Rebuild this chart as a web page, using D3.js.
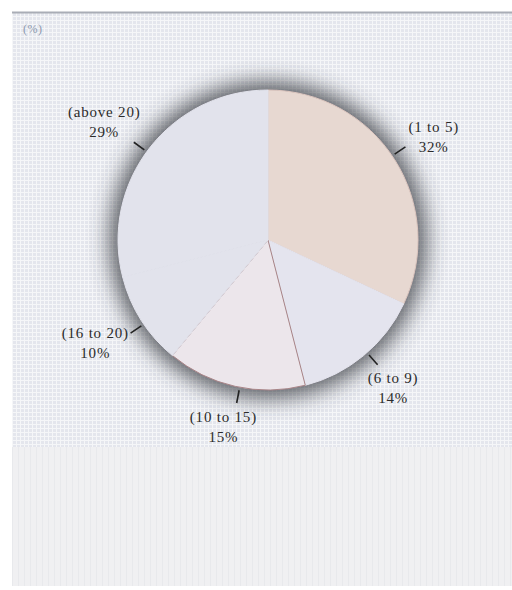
<!DOCTYPE html>
<html>
<head>
<meta charset="utf-8">
<script src="https://cdn.jsdelivr.net/npm/d3@7"></script>
<style>
  body { margin: 0; background: #fff; }
  svg { display: block; }
</style>
</head>
<body>
<div id="pie-chart"></div>
<script>
const categories = ['(1 to 5)', '(6 to 9)', '(10 to 15)', '(16 to 20)', '(above 20)'];
const shares = [32, 14, 15, 10, 29];
const unitLabel = '(%)';

const sliceColors = ['#e7d8d1', '#e4e4ee', '#ece6eb', '#e2e3ec', '#e2e3ec'];
const edgeColors = ['#dcc6bf', '#e4e4ee', '#a88487', '#e2e3ec', '#e2e3ec'];

function initChart() {
  const width = 512;
  const height = 590;
  const cx = 268, cy = 240, r = 150;
  const serif = '"Liberation Serif", "Times New Roman", Times, serif';

  const svg = d3.select('#pie-chart')
      .append('svg')
      .attr('width', width)
      .attr('height', height);

  const defs = svg.append('defs');

  // fine grid texture of the panel
  const pat = defs.append('pattern')
      .attr('id', 'grid')
      .attr('width', 4).attr('height', 4)
      .attr('patternUnits', 'userSpaceOnUse');
  pat.append('rect').attr('width', 4).attr('height', 4).attr('fill', '#e4e6ed');
  pat.append('rect').attr('width', 4).attr('height', 1).attr('fill', '#f5f6f8');
  pat.append('rect').attr('width', 1).attr('height', 4).attr('fill', '#f5f6f8');

  const pat2 = defs.append('pattern')
      .attr('id', 'grid2')
      .attr('width', 6).attr('height', 6)
      .attr('patternUnits', 'userSpaceOnUse');
  pat2.append('rect').attr('width', 6).attr('height', 6).attr('fill', '#f0f0f2');
  pat2.append('rect').attr('width', 1).attr('height', 6).attr('fill', '#e8e9ec');

  const blur = defs.append('filter').attr('id', 'shadow')
      .attr('x', '-40%').attr('y', '-40%').attr('width', '180%').attr('height', '180%');
  blur.append('feGaussianBlur').attr('stdDeviation', 11);

  // panel
  svg.append('rect')
      .attr('x', 12).attr('y', 12).attr('width', width - 12).attr('height', 435)
      .attr('fill', 'url(#grid)');
  svg.append('rect')
      .attr('x', 12).attr('y', 447).attr('width', width - 12).attr('height', 139)
      .attr('fill', 'url(#grid2)');
  svg.append('line')
      .attr('x1', 12).attr('x2', width).attr('y1', 12.5).attr('y2', 12.5)
      .attr('stroke', '#a9adb6').attr('stroke-width', 2);

  svg.append('text')
      .attr('x', 23).attr('y', 33)
      .style('font-family', serif)
      .style('font-size', '12px')
      .style('letter-spacing', '0.5px')
      .style('fill', '#8b98ad')
      .text(unitLabel);

  const g = svg.append('g')
      .attr('transform', `translate(${cx},${cy})`);

  // soft dark halo behind the pie
  g.append('circle')
      .attr('r', r + 8)
      .attr('fill', '#34373d')
      .attr('opacity', 0.8)
      .attr('filter', 'url(#shadow)');

  const pie = d3.pie().sort(null).value(d => d);
  const arc = d3.arc().innerRadius(0).outerRadius(r);
  const pieData = pie(shares);

  g.selectAll('path.slice')
      .data(pieData)
      .enter()
      .append('path')
      .attr('class', 'slice')
      .attr('d', arc)
      .attr('fill', (d, i) => sliceColors[i])
      .attr('stroke', (d, i) => edgeColors[i])
      .attr('stroke-width', 1);

  // short leader ticks at the rim
  const mid = d => (d.startAngle + d.endAngle) / 2;
  g.selectAll('line.tick')
      .data(pieData)
      .enter()
      .append('line')
      .attr('class', 'tick')
      .attr('x1', d => d3.pointRadial(mid(d) - 0.03, r + 3)[0])
      .attr('y1', d => d3.pointRadial(mid(d) - 0.03, r + 3)[1])
      .attr('x2', d => d3.pointRadial(mid(d) - 0.03, r + 16)[0])
      .attr('y2', d => d3.pointRadial(mid(d) - 0.03, r + 16)[1])
      .attr('stroke', '#222')
      .attr('stroke-width', 1.6);

  const labels = g.selectAll('text.lbl')
      .data(pieData)
      .enter()
      .append('text')
      .attr('class', 'lbl')
      .attr('text-anchor', 'middle')
      .style('font-family', serif)
      .style('font-size', '15px')
      .style('letter-spacing', '0.8px')
      .style('fill', '#2b2b2b');
  labels.append('tspan')
      .attr('x', 0).attr('dy', '-0.33em')
      .text((d, i) => categories[i]);
  labels.append('tspan')
      .attr('x', 0).attr('dy', '1.33em')
      .text(d => `${d.data}%`);

  // place each label box just outside its tick, pushed away from the pie
  labels.each(function(d) {
    const b = this.getBBox();
    const a = mid(d);
    const [px, py] = d3.pointRadial(a, r + 21);
    const x = px + Math.sin(a) * b.width / 2 - (b.x + b.width / 2);
    const y = py - Math.cos(a) * (b.height / 2 + 3) - (b.y + b.height / 2);
    d3.select(this).attr('transform', `translate(${x},${y})`);
  });
}

initChart();
</script>
</body>
</html>
